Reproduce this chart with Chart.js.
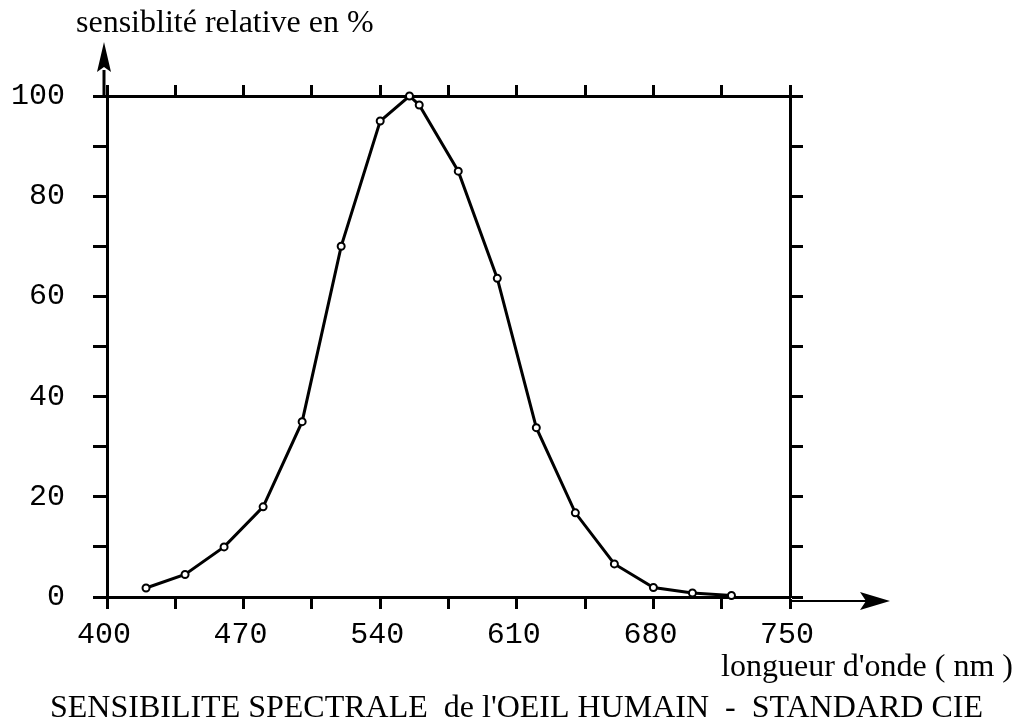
<!DOCTYPE html>
<html>
<head>
<meta charset="utf-8">
<script src="https://cdn.jsdelivr.net/npm/chart.js@4.4.0/dist/chart.umd.min.js"></script>
<style>
  html, body { margin: 0; padding: 0; background: #fff; }
  #wrap { width: 1018px; height: 722px; position: relative; }
</style>
</head>
<body>
<div id="wrap"><canvas id="cie-chart"></canvas></div>
<script>
// wavelengths (nm) and relative sensitivity (%)
const wavelengths = [420, 440, 460, 480, 500, 520, 540, 555, 560, 580, 600, 620, 640, 660, 680, 700, 720];
const sensitivity = [1.8, 4.5, 10, 18, 35, 70, 95, 100, 98.2, 85, 63.6, 33.8, 16.8, 6.6, 1.9, 0.8, 0.3];
const xTicks = [400, 470, 540, 610, 680, 750];
const yTicks = [0, 20, 40, 60, 80, 100];

const monoFont = { family: "'Liberation Mono', 'Courier New', monospace", size: 30 };
const serif = "'Liberation Serif', 'Times New Roman', serif";

// arrows + axis titles + caption
const decorations = {
    id: "decorations",
    afterDraw(chart) {
        const { ctx, chartArea: a } = chart;
        ctx.save();
        ctx.fillStyle = "#000";
        ctx.strokeStyle = "#000";

        // vertical arrow
        const ax = a.left - 3;
        ctx.lineWidth = 3;
        ctx.beginPath();
        ctx.moveTo(ax, a.top);
        ctx.lineTo(ax, a.top - 26);
        ctx.stroke();
        ctx.beginPath();
        ctx.moveTo(ax, a.top - 54);
        ctx.lineTo(ax - 7, a.top - 24);
        ctx.lineTo(ax, a.top - 29);
        ctx.lineTo(ax + 7, a.top - 24);
        ctx.closePath();
        ctx.fill();

        // horizontal arrow
        const ay = a.bottom + 4;
        ctx.lineWidth = 2;
        ctx.beginPath();
        ctx.moveTo(a.right, ay);
        ctx.lineTo(a.right + 78, ay);
        ctx.stroke();
        ctx.beginPath();
        ctx.moveTo(a.right + 100, ay);
        ctx.lineTo(a.right + 70, ay - 9);
        ctx.lineTo(a.right + 76, ay);
        ctx.lineTo(a.right + 70, ay + 9);
        ctx.closePath();
        ctx.fill();

        ctx.textBaseline = "alphabetic";
        ctx.font = "32px " + serif;
        ctx.textAlign = "left";
        ctx.fillText("sensiblité relative en %", 76, 32);

        ctx.textAlign = "right";
        ctx.fillText("longueur d'onde ( nm )", 1013, 676);

        ctx.textAlign = "left";
        ctx.fillText("SENSIBILITE SPECTRALE  de l'OEIL HUMAIN  -  STANDARD CIE", 50, 717);
        ctx.restore();
    }
};

const tickGrid = (len) => ({
    drawOnChartArea: false,
    drawTicks: true,
    tickLength: len,
    tickWidth: 3,
    tickColor: "#000",
    color: "#000"
});
const axisBorder = { display: true, color: "#000", width: 3 };

new Chart(document.getElementById("cie-chart"), {
    type: "line",
    data: {
        datasets: [{
            data: wavelengths.map((w, i) => ({ x: w, y: sensitivity[i] })),
            borderColor: "#000",
            borderWidth: 3,
            pointRadius: 3.5,
            pointBorderWidth: 2,
            pointBackgroundColor: "#fff",
            pointBorderColor: "#000",
            tension: 0,
            clip: false
        }]
    },
    options: {
        responsive: true,
        maintainAspectRatio: false,
        animation: false,
        layout: { padding: 0 },
        plugins: { legend: { display: false }, tooltip: { enabled: false } },
        scales: {
            x: {
                type: "linear", position: "bottom", min: 400, max: 750,
                afterFit: (s) => { s.height = 125; },
                ticks: {
                    stepSize: 35, autoSkip: false, maxRotation: 0, padding: 8, labelOffset: -3,
                    color: "#000", font: monoFont,
                    callback: (v) => xTicks.includes(v) ? String(v) : ""
                },
                grid: tickGrid(12),
                border: axisBorder
            },
            x2: {
                type: "linear", position: "top", min: 400, max: 750,
                afterFit: (s) => { s.height = 96; },
                ticks: { stepSize: 35, autoSkip: false, display: false },
                grid: tickGrid(11),
                border: axisBorder
            },
            y: {
                type: "linear", position: "left", min: 0, max: 100,
                afterFit: (s) => { s.width = 107; },
                ticks: {
                    stepSize: 10, autoSkip: false, padding: 28,
                    color: "#000", font: monoFont,
                    callback: (v) => yTicks.includes(v) ? String(v) : ""
                },
                grid: tickGrid(14),
                border: axisBorder
            },
            y2: {
                type: "linear", position: "right", min: 0, max: 100,
                afterFit: (s) => { s.width = 228; },
                ticks: { stepSize: 10, autoSkip: false, display: false },
                grid: tickGrid(13),
                border: axisBorder
            }
        }
    },
    plugins: [decorations]
});
</script>
</body>
</html>
